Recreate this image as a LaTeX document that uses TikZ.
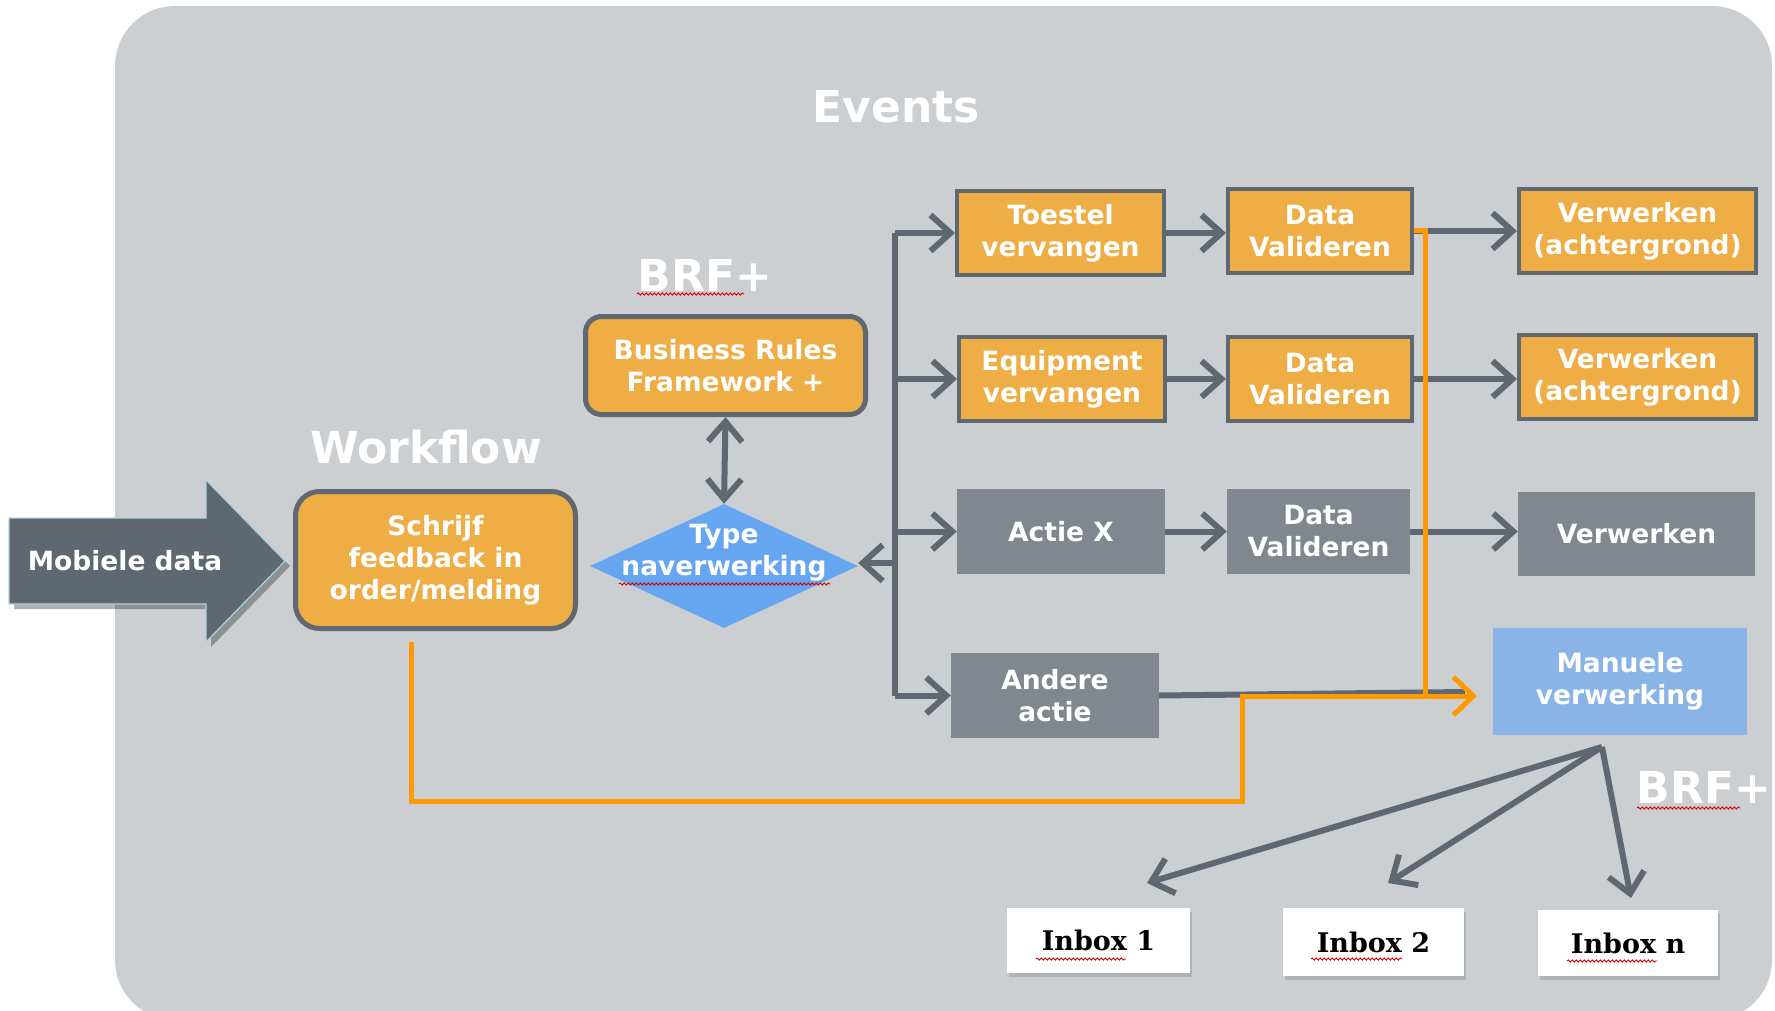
\documentclass[tikz,border=0pt]{standalone}
\usepackage{fontspec}
\setmainfont{DejaVu Sans}
\newfontfamily\inboxfont{DejaVu Serif}
\usetikzlibrary{arrows.meta,shapes.geometric,shadows,decorations.pathmorphing}
\definecolor{bgc}{HTML}{CBCFD2}
\definecolor{org}{HTML}{EEAD45}
\definecolor{dkg}{HTML}{5F6870}
\definecolor{greyfill}{HTML}{80878E}
\definecolor{dblue}{HTML}{66A6F0}
\definecolor{lblue}{HTML}{8AB4E8}
\definecolor{oline}{HTML}{FF9900}
\definecolor{arrowrim}{HTML}{A9D6DC}
\tikzset{
  boxfont/.style={font=\bfseries\fontsize{26.5}{32}\selectfont},
  sqbox/.style={draw=dkg, line width=4pt, fill=org, text=white, boxfont, align=center, inner sep=0pt},
  rbox/.style={sqbox, line width=5pt},
  greybox/.style={fill=greyfill, text=white, boxfont, align=center, inner sep=0pt},
  bluebox/.style={fill=lblue, text=white, boxfont, align=center, inner sep=0pt},
  inbox/.style={fill=white, text=black, font=\inboxfont\bfseries\fontsize{27}{32}\selectfont,
    inner sep=0pt, drop shadow={shadow xshift=2pt, shadow yshift=-4pt, opacity=0.35}},
  title/.style={text=white, font=\bfseries\fontsize{44}{50}\selectfont, inner sep=0pt},
  gline/.style={draw=dkg, line width=6pt},
  arr/.style={gline, -{Straight Barb[length=20pt,width=36pt]}},
  darr/.style={gline, {Straight Barb[length=20pt,width=34pt]}-{Straight Barb[length=20pt,width=34pt]}},
  oarrline/.style={draw=oline, line width=5pt},
  oarr/.style={oarrline, -{Straight Barb[length=20pt,width=38pt]}},
  squig/.style={draw=red!85!black, line width=0.9pt, decorate, decoration={snake, segment length=4pt, amplitude=1.1pt}}
}
\begin{document}
\begin{tikzpicture}[x=1pt,y=-1pt]
\useasboundingbox (0,0) rectangle (1775,1011);
\fill[bgc, rounded corners=60pt] (115,6) rectangle (1772,1020);

% titles
\node[title] (events) at (896,107) {Events};
\node[title] (workflow) at (426,447) {Workflow};
\node[title] (brftop) at (705,275) {BRF+};
\node[title] (brfbot) at (1704,787) {BRF+};

% mobiele data arrow
\fill[black, opacity=0.3] (14,523) -- (211,523) -- (211,485) -- (290,566) -- (211,647) -- (211,609) -- (14,609) -- cycle;
\filldraw[fill=dkg, draw=arrowrim, line width=1.2pt] (9,518) -- (206,518) -- (206,480) -- (285,561) -- (206,642) -- (206,604) -- (9,604) -- cycle;
\node[text=white, boxfont, inner sep=0pt] (mob) at (125,561) {Mobiele data};

% workflow boxes
\node[rbox, rounded corners=24pt, minimum width=280pt, minimum height=137pt] (schrijf) at (435.5,560) {Schrijf\\feedback in\\order/melding};
\node[rbox, rounded corners=16pt, minimum width=280pt, minimum height=98pt] (brf) at (725.5,365.5) {Business Rules\\Framework +};
\node[diamond, fill=dblue, minimum width=268pt, minimum height=124pt, inner sep=0pt] (diam) at (724,566) {};
\node[text=white, boxfont, align=center, inner sep=0pt] (dtext) at (724,553) {Type\\naverwerking};

% event boxes
\node[sqbox, minimum width=207pt, minimum height=84pt] (toestel) at (1060.5,233) {Toestel\\vervangen};
\node[sqbox, minimum width=184pt, minimum height=84pt] (dv1) at (1320,231) {Data\\Valideren};
\node[sqbox, minimum width=237pt, minimum height=84pt] (verw1) at (1637.5,231) {Verwerken\\(achtergrond)};
\node[sqbox, minimum width=206pt, minimum height=84pt] (equip) at (1062,379) {Equipment\\vervangen};
\node[sqbox, minimum width=184pt, minimum height=84pt] (dv2) at (1320,379) {Data\\Valideren};
\node[sqbox, minimum width=237pt, minimum height=84pt] (verw2) at (1637.5,377) {Verwerken\\(achtergrond)};
\node[greybox, minimum width=208pt, minimum height=85pt] (actiex) at (1061,531.5) {Actie X};
\node[greybox, minimum width=183pt, minimum height=85pt] (dv3) at (1318.5,531.5) {Data\\Valideren};
\node[greybox, minimum width=237pt, minimum height=84pt] (verw3) at (1636.5,534) {Verwerken};
\node[greybox, minimum width=208pt, minimum height=85pt] (andere) at (1055,695.5) {Andere\\actie};
\node[bluebox, minimum width=254pt, minimum height=107pt] (manuele) at (1620,681.5) {Manuele\\verwerking};

% inboxes
\node[inbox, minimum width=183pt, minimum height=65pt] (inbox1) at (1098.5,940.5) {Inbox 1};
\node[inbox, minimum width=181pt, minimum height=68pt] (inbox2) at (1373.5,942) {Inbox 2};
\node[inbox, minimum width=180pt, minimum height=66pt] (inboxn) at (1628,943) {Inbox n};

% coordinates
\coordinate (trunk) at (895,563);
\coordinate (gEnd) at (1465,692);
\coordinate (oStart) at (411,642);
\coordinate (oLow) at (1242,801);
\coordinate (oJoin) at (1425,696);
\coordinate (mIn) at (1477,696);
\coordinate (mOut) at (1602,747);
\coordinate (t1) at (1147,883);
\coordinate (t2) at (1388,883);
\coordinate (tn) at (1631,898);

% grey connectors
\draw[darr] (brf.south) -- (diam.north);
\draw[gline] (toestel.west -| trunk) -- (andere.west -| trunk);
\draw[arr] (trunk) -- (trunk -| diam.east);
\draw[arr] (toestel.west -| trunk) -- (toestel.west);
\draw[arr] (equip.west -| trunk) -- (equip.west);
\draw[arr] (actiex.west -| trunk) -- (actiex.west);
\draw[arr] (andere.west -| trunk) -- (andere.west);
\draw[arr] (toestel.east) -- (toestel.east -| dv1.west);
\draw[arr] (dv1.east) -- (dv1.east -| verw1.west);
\draw[arr] (equip.east) -- (equip.east -| dv2.west);
\draw[arr] (dv2.east) -- (dv2.east -| verw2.west);
\draw[arr] (actiex.east) -- (actiex.east -| dv3.west);
\draw[arr] (dv3.east) -- (dv3.east -| verw3.west);
\draw[gline] (andere.east) -- (gEnd);
\draw[arr] (mOut) -- (t1);
\draw[arr] (mOut) -- (t2);
\draw[arr] (mOut) -- (tn);

% orange connectors
\draw[oarrline] (dv1.east) -| (oJoin);
\draw[oarr] (oStart) |- (oLow) |- (mIn);

% spell-check squiggles
\draw[squig] (637,294) -- (744,294);
\draw[squig] (619,584) -- (830,584);
\draw[squig] (1637,808) -- (1740,808);
\draw[squig] (1036,959) -- (1126,959);
\draw[squig] (1311,959) -- (1402,959);
\draw[squig] (1567,961) -- (1657,961);
\end{tikzpicture}
\end{document}
